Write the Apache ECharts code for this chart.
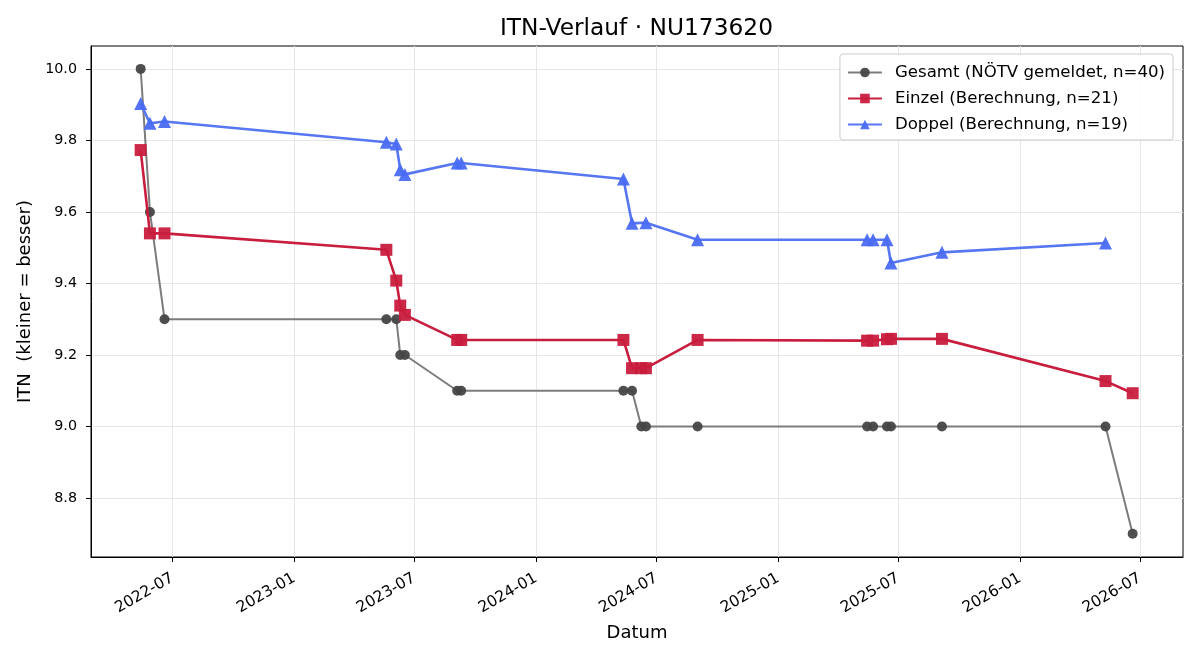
<!DOCTYPE html>
<html>
<head>
<meta charset="utf-8">
<script src="https://cdn.jsdelivr.net/npm/echarts@6/dist/echarts.min.js"></script>
<style>
  html, body { margin: 0; padding: 0; background: #fff; }
  #main { width: 1200px; height: 660px; }
</style>
</head>
<body>
<div id="main"></div>
<script>
// Daten: Meldedaten und ITN-Werte
let einzelDates = [
  "2022-05-14", "2022-05-28", "2022-06-19", "2023-05-20", "2023-06-04",
  "2023-06-10", "2023-06-17", "2023-09-04", "2023-09-10", "2024-05-12",
  "2024-05-25", "2024-06-08", "2024-06-15", "2024-09-01", "2025-05-15",
  "2025-05-24", "2025-06-14", "2025-06-20", "2025-09-05", "2026-05-10",
  "2026-06-20",
];
let einzelValues = [
  9.773, 9.54, 9.54, 9.494, 9.408, 9.338, 9.312, 9.242, 9.242, 9.242,
  9.163, 9.163, 9.163, 9.242, 9.24, 9.24, 9.244, 9.245, 9.245, 9.127,
  9.093,
];

let doppelDates = [
  "2022-05-14", "2022-05-28", "2022-06-19", "2023-05-20", "2023-06-04",
  "2023-06-10", "2023-06-17", "2023-09-04", "2023-09-10", "2024-05-12",
  "2024-05-25", "2024-06-15", "2024-09-01", "2025-05-15", "2025-05-24",
  "2025-06-14", "2025-06-20", "2025-09-05", "2026-05-10",
];
let doppelValues = [
  9.903, 9.848, 9.853, 9.795, 9.79, 9.718, 9.705, 9.737, 9.737, 9.692,
  9.568, 9.57, 9.522, 9.522, 9.522, 9.522, 9.457, 9.487, 9.513,
];

let gesamtDates = einzelDates.slice();
let gesamtValues = [
  10.0, 9.6, 9.3, 9.3, 9.3, 9.2, 9.2, 9.1, 9.1, 9.1,
  9.1, 9.0, 9.0, 9.0, 9.0, 9.0, 9.0, 9.0, 9.0, 9.0,
  8.7,
];

// Achsenbeschriftungen
let xTicks = [
  "2022-07-01", "2023-01-01", "2023-07-01", "2024-01-01", "2024-07-01",
  "2025-01-01", "2025-07-01", "2026-01-01", "2026-07-01",
];
let yTicks = [8.8, 9.0, 9.2, 9.4, 9.6, 9.8, 10.0];

let colors = {
  gesamtLine: "#7c7c7c",
  gesamtDot: "#464646",
  einzel: "#c91d3e",
  doppel: "#5676f2",
  grid: "#e6e6e6",
  text: "#000",
};

// Datum -> Zeitstempel (UTC)
let ts = (s) => Date.parse(s + "T00:00:00Z");
let fmtMonth = (v) => {
  let d = new Date(v);
  return d.getUTCFullYear() + "-" + String(d.getUTCMonth() + 1).padStart(2, "0");
};
let pairs = (dates, values) => dates.map((d, i) => [ts(d), values[i]]);

let font = "DejaVu Sans";

let myChart = echarts.init(document.getElementById("main"));

let option = {
  animation: false,
  textStyle: { fontFamily: font, color: colors.text },
  title: {
    text: "ITN-Verlauf · NU173620",
    left: 500,
    top: 17,
    padding: 0,
    textStyle: { fontFamily: font, fontWeight: "normal", fontSize: 23.3, color: "#000" },
  },
  grid: {
    left: 91,
    right: 17,
    top: 46,
    bottom: 103,
    show: true,
    borderColor: "#000",
    borderWidth: 1,
    containLabel: false,
  },
  legend: {
    orient: "vertical",
    right: 27,
    top: 54,
    padding: [10, 8, 7, 7],
    itemWidth: 34,
    itemHeight: 12,
    itemGap: 9,
    backgroundColor: "rgba(255,255,255,0.85)",
    borderColor: "#cccccc",
    borderWidth: 1,
    borderRadius: 3,
    textStyle: { fontFamily: font, fontSize: 16.6, color: "#000", padding: [0, 0, 0, 8] },
    data: [
      "Gesamt (NÖTV gemeldet, n=40)",
      "Einzel (Berechnung, n=21)",
      "Doppel (Berechnung, n=19)",
    ],
  },
  xAxis: {
    type: "value",
    min: ts("2022-02-28"),
    max: ts("2026-09-04"),
    name: "Datum",
    nameLocation: "middle",
    nameGap: 67,
    nameTextStyle: { fontFamily: font, fontSize: 18, color: "#000" },
    axisLine: { show: true, lineStyle: { color: "#000", width: 1 } },
    axisTick: {
      show: true,
      inside: false,
      length: 5,
      lineStyle: { color: "#000" },
      customValues: xTicks.map(ts),
    },
    axisLabel: {
      rotate: 30,
      fontFamily: font,
      fontSize: 15.5,
      color: "#000",
      margin: 20,
      customValues: xTicks.map(ts),
      formatter: (v) => fmtMonth(v),
    },
    splitLine: { show: true, lineStyle: { color: colors.grid, width: 1 } },
  },
  yAxis: {
    type: "value",
    min: 8.635,
    max: 10.064,
    name: "ITN  (kleiner = besser)",
    nameLocation: "middle",
    nameGap: 56,
    nameTextStyle: { fontFamily: font, fontSize: 18, color: "#000" },
    axisLine: { show: true, lineStyle: { color: "#000", width: 1 } },
    axisTick: {
      show: true,
      inside: false,
      length: 5,
      lineStyle: { color: "#000" },
      customValues: yTicks,
    },
    axisLabel: {
      fontFamily: font,
      fontSize: 14.3,
      color: "#000",
      margin: 14,
      customValues: yTicks,
      formatter: (v) => v.toFixed(1),
    },
    splitLine: { show: true, lineStyle: { color: colors.grid, width: 1 } },
  },
  series: [
    {
      name: "Gesamt (NÖTV gemeldet, n=40)",
      type: "line",
      data: pairs(gesamtDates, gesamtValues),
      symbol: "circle",
      symbolSize: 10,
      showAllSymbol: true,
      lineStyle: { color: colors.gesamtLine, width: 2 },
      itemStyle: { color: colors.gesamtDot, opacity: 0.95 },
      z: 2,
    },
    {
      name: "Einzel (Berechnung, n=21)",
      type: "line",
      data: pairs(einzelDates, einzelValues),
      symbol: "rect",
      symbolSize: 12,
      showAllSymbol: true,
      lineStyle: { color: colors.einzel, width: 2.6 },
      itemStyle: { color: colors.einzel, opacity: 0.95 },
      z: 3,
    },
    {
      name: "Doppel (Berechnung, n=19)",
      type: "line",
      data: pairs(doppelDates, doppelValues),
      symbol: "triangle",
      symbolSize: 13,
      showAllSymbol: true,
      lineStyle: { color: colors.doppel, width: 2.6 },
      itemStyle: { color: "#4a6cf3", opacity: 0.95 },
      z: 4,
    },
  ],
};

myChart.setOption(option);
</script>
</body>
</html>
